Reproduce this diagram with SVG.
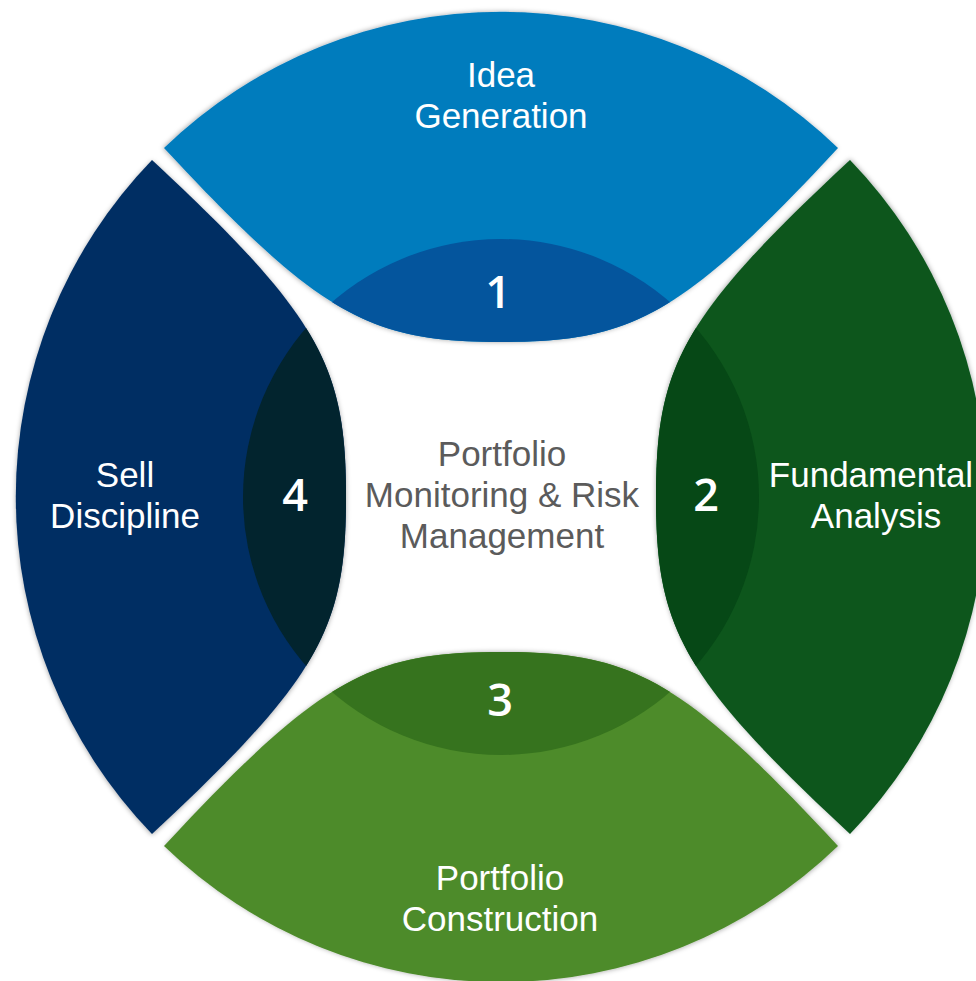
<svg xmlns="http://www.w3.org/2000/svg" width="976" height="981" viewBox="0 0 976 981">
  <style>
    .lbl { font-family: "Liberation Sans", Arial, sans-serif; font-size: 35px; fill: #ffffff; text-anchor: middle; }
    .ctr { font-family: "Liberation Sans", Arial, sans-serif; font-size: 35px; fill: #5b5b5b; text-anchor: middle; }
    .num { font-family: "Open Sans", "Liberation Sans", sans-serif; font-size: 45px; font-weight: 600; fill: #ffffff; text-anchor: middle; }
  </style>
  <defs>
    <path id="seg" d="M 152,160 C 321,317 346,367 346,497 C 346,627 321,677 152,834 A 485 485 0 0 1 152,160 Z"/>
    <clipPath id="clipL"><use href="#seg"/></clipPath>
    <clipPath id="clipT"><use href="#seg" transform="rotate(90 501 497)"/></clipPath>
    <clipPath id="clipR"><use href="#seg" transform="rotate(180 501 497)"/></clipPath>
    <clipPath id="clipB"><use href="#seg" transform="rotate(270 501 497)"/></clipPath>
    <filter id="sh" x="-10%" y="-10%" width="120%" height="120%">
      <feDropShadow dx="0" dy="1" stdDeviation="2.5" flood-color="#000" flood-opacity="0.35"/>
    </filter>
  </defs>
  <rect width="976" height="981" fill="#ffffff"/>

  <g id="node-1-idea-generation">
    <use href="#seg" transform="rotate(90 501 497)" fill="#047bbd" filter="url(#sh)"/>
    <circle cx="501" cy="497" r="258" fill="#04559d" clip-path="url(#clipT)"/>
    <text class="lbl" x="501" y="87">Idea</text>
    <text class="lbl" x="501" y="128">Generation</text>
    <text class="num" x="498" y="308">1</text>
  </g>

  <g id="node-2-fundamental-analysis">
    <use href="#seg" transform="rotate(180 501 497)" fill="#08561b" filter="url(#sh)"/>
    <circle cx="501" cy="497" r="258" fill="#064816" clip-path="url(#clipR)"/>
    <text class="lbl" x="871" y="487" font-size="34">Fundamental</text>
    <text class="lbl" x="876" y="528">Analysis</text>
    <text class="num" x="706" y="511">2</text>
  </g>

  <g id="node-3-portfolio-construction">
    <use href="#seg" transform="rotate(270 501 497)" fill="#4e8b2c" filter="url(#sh)"/>
    <circle cx="501" cy="497" r="258" fill="#36731e" clip-path="url(#clipB)"/>
    <text class="lbl" x="500" y="890">Portfolio</text>
    <text class="lbl" x="500" y="931">Construction</text>
    <text class="num" x="500" y="716">3</text>
  </g>

  <g id="node-4-sell-discipline">
    <use href="#seg" fill="#022e63" filter="url(#sh)"/>
    <circle cx="501" cy="497" r="258" fill="#02242e" clip-path="url(#clipL)"/>
    <text class="lbl" x="125" y="487">Sell</text>
    <text class="lbl" x="125" y="528">Discipline</text>
    <text class="num" x="295" y="511">4</text>
  </g>

  <g id="node-center-monitoring">
    <text class="ctr" x="502" y="466">Portfolio</text>
    <text class="ctr" x="502" y="507">Monitoring &amp; Risk</text>
    <text class="ctr" x="502" y="548">Management</text>
  </g>

  <g id="connectors"/>
</svg>
